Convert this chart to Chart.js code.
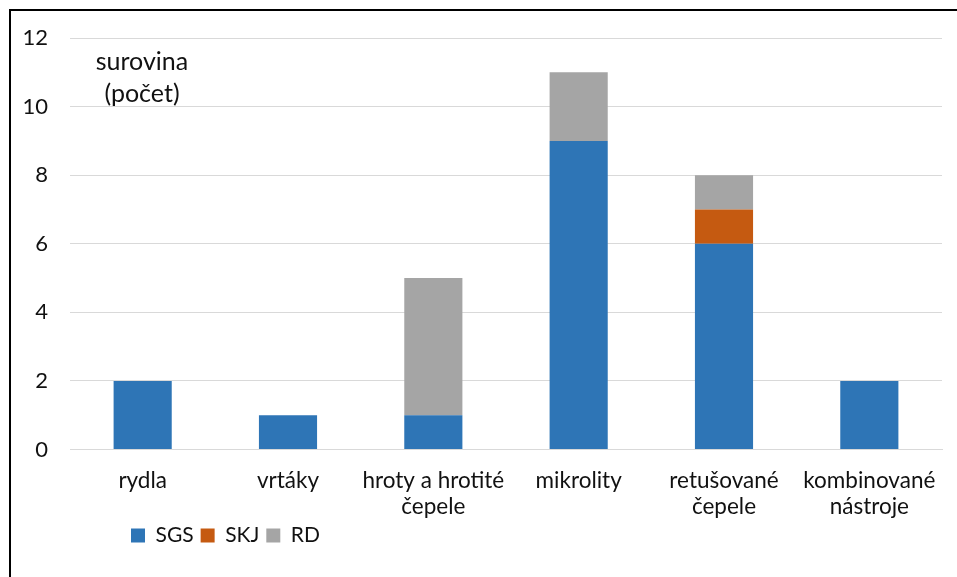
<!DOCTYPE html>
<html>
<head>
<meta charset="utf-8">
<script src="https://cdn.jsdelivr.net/npm/chart.js@4"></script>
<style>
  html, body { margin: 0; padding: 0; background: #fff; overflow: hidden; }
  #frame { position: absolute; left: 9px; top: 9px; width: 1200px; height: 900px;
           border-left: 2px solid #000; border-top: 2px solid #000; }
  #wrap { position: absolute; left: 0; top: 0; width: 957px; height: 577px; }
</style>
</head>
<body>
<div id="frame"></div>
<div id="wrap"><canvas id="c" width="957" height="577"></canvas></div>
<script>
// Tool types (multi-line labels) and counts per raw material
const categories = [
  ['rydla'],
  ['vrtáky'],
  ['hroty a hrotité', 'čepele'],
  ['mikrolity'],
  ['retušované', 'čepele'],
  ['kombinované', 'nástroje']
];
const seriesNames = ['SGS', 'SKJ', 'RD'];
const sgsValues = [2, 1, 1, 9, 6, 2];
const skjValues = [0, 0, 0, 0, 1, 0];
const rdValues  = [0, 0, 4, 2, 1, 0];
const yTicks = [0, 2, 4, 6, 8, 10, 12];
const axisTitleLines = ['surovina', '(počet)'];

const FONT = 'Lato, "Open Sans", sans-serif';
const TEXT = '#111';

// Axis caption drawn inside the plot, top-left
const captionPlugin = {
  id: 'caption',
  afterDatasetsDraw(chart) {
    const ctx = chart.ctx;
    const area = chart.chartArea;
    ctx.save();
    ctx.fillStyle = TEXT;
    ctx.font = '25px ' + FONT;
    ctx.textAlign = 'center';
    ctx.textBaseline = 'alphabetic';
    const cx = area.left + 72;
    axisTitleLines.forEach((t, i) => ctx.fillText(t, cx, area.top + 31.5 + i * 32));
    ctx.restore();
  }
};

// Place the bottom legend under the left part of the plot
const legendShift = {
  id: 'legendShift',
  afterLayout(chart) {
    const lg = chart.legend;
    if (!lg) return;
    const w = lg.right - lg.left;
    lg.left = 124;
    lg.right = lg.left + w;
    lg.top = 518;
    lg.bottom = lg.top + 50;
  }
};

new Chart(document.getElementById('c'), {
  type: 'bar',
  data: {
    labels: categories,
    datasets: [
      { label: seriesNames[0], data: sgsValues, backgroundColor: '#2E75B6' },
      { label: seriesNames[1], data: skjValues, backgroundColor: '#C55A11' },
      { label: seriesNames[2], data: rdValues,  backgroundColor: '#A5A5A5' }
    ]
  },
  options: {
    responsive: false,
    animation: false,
    devicePixelRatio: 1,
    layout: { padding: { top: 38, right: 15, bottom: 33.5, left: 0 } },
    datasets: { bar: { categoryPercentage: 1.0, barPercentage: 0.4, borderWidth: 0 } },
    scales: {
      x: {
        stacked: true,
        grid: { display: false, drawTicks: false },
        border: { display: true, color: '#D9D9D9', width: 1 },
        ticks: { color: TEXT, font: { family: FONT, size: 22.5, lineHeight: 1.17 }, padding: 18, maxRotation: 0, autoSkip: false },
        afterFit(scale) { scale.height = 84; }
      },
      y: {
        stacked: true,
        min: yTicks[0],
        max: yTicks[yTicks.length - 1],
        afterBuildTicks(scale) { scale.ticks = yTicks.map(v => ({ value: v })); },
        grid: { color: '#D9D9D9', lineWidth: 1, drawTicks: false },
        border: { display: false },
        ticks: { color: TEXT, font: { family: FONT, size: 22 }, padding: 22 },
        afterFit(scale) { scale.width = 70; }
      }
    },
    plugins: {
      legend: {
        position: 'bottom',
        align: 'start',
        maxHeight: 10,
        labels: {
          color: TEXT,
          font: { family: FONT, size: 21 },
          boxWidth: 14,
          boxHeight: 14,
          padding: 7
        }
      },
      tooltip: { enabled: false },
      title: { display: false }
    }
  },
  plugins: [captionPlugin, legendShift]
});
</script>
</body>
</html>
